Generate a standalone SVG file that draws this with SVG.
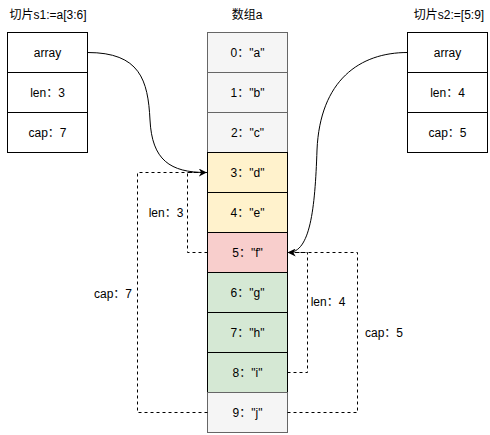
<svg xmlns="http://www.w3.org/2000/svg" width="490" height="435" viewBox="0 0 490 435">
<defs>
<marker id="arr" viewBox="0 0 10 10" refX="9" refY="5" markerWidth="8" markerHeight="8" markerUnits="userSpaceOnUse" orient="auto">
<path d="M0,0 L10,5 L0,10 L3,5 Z" fill="#000"/>
</marker>
<style>
text{font-family:"Liberation Sans","Noto Sans CJK SC",sans-serif;font-size:12px;fill:#000;text-anchor:middle;dominant-baseline:central}
.box{fill:#fff;stroke:#000;stroke-width:1}
.gr{fill:#f5f5f5;stroke:#666;stroke-width:1}
.ye{fill:#fff2cc;stroke:#000;stroke-width:1}
.rd{fill:#f8cecc;stroke:#000;stroke-width:1}
.gn{fill:#d5e8d4;stroke:#000;stroke-width:1}
.dash{fill:none;stroke:#000;stroke-width:1;stroke-dasharray:3 3}
.cur{fill:none;stroke:#000;stroke-width:1}
</style>
</defs>
<rect width="490" height="435" fill="#fff"/>
<g id="titles">
<text x="48" y="15">切片s1:=a[3:6]</text>
<text x="247" y="15">数组a</text>
<text x="449" y="15">切片s2:=[5:9]</text>
</g>
<g id="s1">
<rect class="box" x="7.5" y="32.5" width="80" height="40"/>
<rect class="box" x="7.5" y="72.5" width="80" height="40"/>
<rect class="box" x="7.5" y="112.5" width="80" height="40"/>
<text x="47.5" y="52.5">array</text>
<text x="47.5" y="92.5">len：3</text>
<text x="47.5" y="132.5">cap：7</text>
</g>
<g id="s2">
<rect class="box" x="407.5" y="32.5" width="80" height="40"/>
<rect class="box" x="407.5" y="72.5" width="80" height="40"/>
<rect class="box" x="407.5" y="112.5" width="80" height="40"/>
<text x="447.5" y="52.5">array</text>
<text x="447.5" y="92.5">len：4</text>
<text x="447.5" y="132.5">cap：5</text>
</g>
<g id="array">
<rect class="gr" x="207.5" y="32.5" width="80" height="40"/>
<rect class="gr" x="207.5" y="72.5" width="80" height="40"/>
<rect class="gr" x="207.5" y="112.5" width="80" height="40"/>
<rect class="ye" x="207.5" y="152.5" width="80" height="40"/>
<rect class="ye" x="207.5" y="192.5" width="80" height="40"/>
<rect class="rd" x="207.5" y="232.5" width="80" height="40"/>
<rect class="gn" x="207.5" y="272.5" width="80" height="40"/>
<rect class="gn" x="207.5" y="312.5" width="80" height="40"/>
<rect class="gn" x="207.5" y="352.5" width="80" height="40"/>
<rect class="gr" x="207.5" y="392.5" width="80" height="40"/>
<text x="247.5" y="52.5">0："a"</text>
<text x="247.5" y="92.5">1："b"</text>
<text x="247.5" y="132.5">2："c"</text>
<text x="247.5" y="172.5">3："d"</text>
<text x="247.5" y="212.5">4："e"</text>
<text x="247.5" y="252.5">5："f"</text>
<text x="247.5" y="292.5">6："g"</text>
<text x="247.5" y="332.5">7："h"</text>
<text x="247.5" y="372.5">8："i"</text>
<text x="247.5" y="412.5">9："j"</text>
</g>
<g id="connectors">
<path class="cur" d="M87.5,52.5 C140,52.5 148,80 150,120 C152,160 170,172.5 206,172.5" marker-end="url(#arr)"/>
<path class="cur" d="M407.5,52.5 C360,52.5 320,80 317,150 C315,210 310,252.5 288.5,252.5" marker-end="url(#arr)"/>
<path class="dash" d="M207.5,252.5 H187.5 V172.5 H207.5"/>
<path class="dash" d="M207.5,412.5 H137.5 V172.5 H207.5"/>
<path class="dash" d="M287.5,372.5 H307.5 V252.5 H287.5"/>
<path class="dash" d="M287.5,412.5 H357.5 V252.5 H287.5"/>
</g>
<g id="labels">
<text x="166" y="213">len：3</text>
<text x="113" y="294">cap：7</text>
<text x="328" y="302">len：4</text>
<text x="384" y="333">cap：5</text>
</g>
</svg>
